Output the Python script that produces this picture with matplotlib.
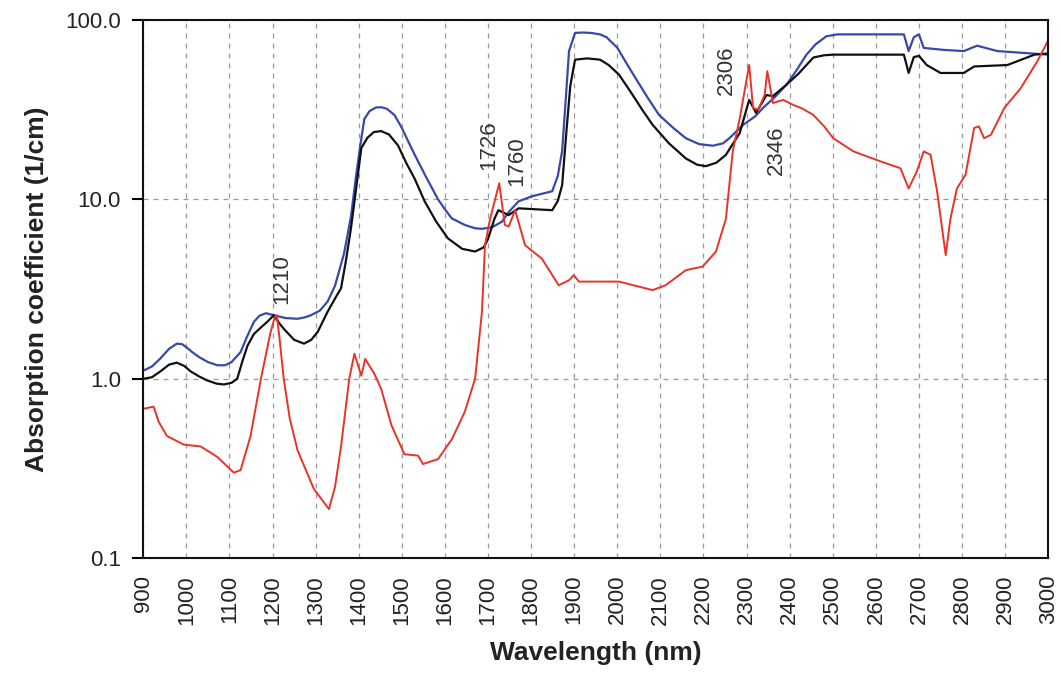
import numpy as np
import matplotlib
matplotlib.use("Agg")
import matplotlib.pyplot as plt
from matplotlib.ticker import FixedLocator, NullLocator, FuncFormatter

plt.rcParams['font.family'] = ['Liberation Sans', 'DejaVu Sans']

# wavelength (nm) / absorption coefficient (1/cm)
blue_wl = [900, 920, 940, 960, 978, 990, 1000, 1015, 1030, 1050, 1072, 1090,
           1105, 1126, 1140, 1157, 1170, 1185, 1203, 1230, 1258, 1275, 1289, 1310,
           1328, 1345, 1366, 1382, 1394, 1405, 1413, 1425, 1440, 1452, 1465, 1483,
           1500, 1515, 1530, 1555, 1584, 1600, 1616, 1646, 1670, 1686, 1710, 1732,
           1750, 1771, 1802, 1849, 1862, 1872, 1880, 1888, 1902, 1920, 1940, 1960,
           1975, 2000, 2020, 2042, 2070, 2097, 2130, 2159, 2190, 2222, 2245, 2260,
           2292, 2320, 2338, 2365, 2392, 2415, 2439, 2460, 2485, 2510, 2548, 2665,
           2676, 2688, 2700, 2711, 2758, 2804, 2835, 2882, 2960, 3000]
blue_abs = [1.11, 1.17, 1.3, 1.47, 1.57, 1.56, 1.5, 1.4, 1.32, 1.24, 1.19, 1.19,
            1.24, 1.41, 1.7, 2.08, 2.25, 2.32, 2.26, 2.18, 2.16, 2.2, 2.26, 2.4,
            2.7, 3.3, 5.0, 8.0, 13.6, 21, 28, 31, 32.5, 32.6, 32, 29.5,
            25, 21, 17.7, 13.5, 10.0, 8.8, 7.83, 7.2, 6.9, 6.85, 7.0, 7.5,
            8.6, 9.75, 10.4, 11.1, 13.5, 18.6, 35, 67, 84.6, 85, 84.5, 83,
            80, 70, 58, 47.5, 37, 29.5, 25, 21.9, 20.3, 19.9, 20.5, 21.9,
            26, 29, 32.3, 37, 43.4, 52, 64, 73, 81, 83, 83, 83,
            67, 80, 83, 69.8, 68, 67, 71.8, 67, 65, 64]

black_wl = [900, 920, 940, 960, 978, 995, 1010, 1030, 1048, 1070, 1087, 1105,
            1118, 1130, 1142, 1157, 1175, 1188, 1203, 1215, 1226, 1250, 1273, 1290,
            1305, 1328, 1345, 1359, 1370, 1382, 1395, 1406, 1420, 1435, 1452, 1470,
            1491, 1510, 1530, 1553, 1580, 1607, 1640, 1670, 1690, 1700, 1715, 1724,
            1748, 1771, 1849, 1862, 1872, 1882, 1891, 1902, 1930, 1960, 1980, 2004,
            2030, 2060, 2082, 2120, 2159, 2185, 2205, 2230, 2252, 2284, 2306, 2322,
            2346, 2361, 2392, 2420, 2455, 2480, 2501, 2665, 2676, 2688, 2700, 2718,
            2750, 2804, 2828, 2905, 2968, 3000]
black_abs = [1.0, 1.02, 1.1, 1.2, 1.23, 1.18, 1.1, 1.03, 0.98, 0.94, 0.93, 0.95,
             1.0, 1.25, 1.53, 1.78, 1.95, 2.08, 2.26, 2.05, 1.9, 1.65, 1.57, 1.65,
             1.83, 2.37, 2.8, 3.2, 4.5, 6.9, 12, 19.3, 22, 23.7, 24, 23,
             20, 16, 13, 9.75, 7.5, 6.06, 5.3, 5.12, 5.4, 6.0, 7.8, 8.7,
             8.17, 8.91, 8.7, 9.8, 12.0, 24, 43, 60, 61, 60, 56, 49.5,
             40, 31, 26, 20.5, 16.9, 15.6, 15.3, 16.0, 17.7, 23.4, 35.8, 30.3,
             38.1, 37.6, 43.4, 50, 61.7, 63.5, 64, 64, 50.6, 62, 63, 56,
             50.6, 50.6, 55, 56, 64, 65]

red_wl = [900, 924, 936, 955, 994, 1033, 1072, 1110, 1126, 1149, 1173, 1195,
          1205, 1210, 1216, 1226, 1240, 1258, 1296, 1331, 1345, 1359, 1378, 1390,
          1406, 1415, 1436, 1452, 1476, 1506, 1538, 1549, 1584, 1616, 1646, 1670,
          1686, 1693, 1705, 1726, 1739, 1748, 1763, 1786, 1825, 1864, 1888, 1899,
          1911, 1926, 2004, 2082, 2112, 2159, 2198, 2229, 2252, 2268, 2284, 2306,
          2315, 2327, 2342, 2348, 2361, 2385, 2408, 2430, 2455, 2480, 2501, 2548,
          2610, 2657, 2676, 2695, 2711, 2727, 2742, 2762, 2773, 2788, 2808, 2828,
          2839, 2851, 2867, 2898, 2936, 2975, 3000]
red_abs = [0.68, 0.70, 0.575, 0.48, 0.43, 0.42, 0.367, 0.30, 0.31, 0.48, 1.0, 1.8,
           2.2, 2.26, 1.7, 1.0, 0.6, 0.4, 0.243, 0.188, 0.25, 0.42, 1.0, 1.38,
           1.04, 1.29, 1.07, 0.88, 0.55, 0.38, 0.373, 0.335, 0.357, 0.46, 0.654, 1.0,
           2.37, 5.55, 7.8, 12.3, 7.2, 7.06, 8.7, 5.55, 4.67, 3.32, 3.54, 3.78,
           3.48, 3.48, 3.48, 3.12, 3.32, 4.03, 4.22, 5.12, 7.8, 18.6, 28.2, 56,
           32.3, 31.6, 38.2, 51.8, 34.4, 35.8, 33.6, 32, 29.5, 25.5, 21.9, 18.5,
           16.3, 14.9, 11.5, 14.3, 18.5, 17.7, 11.1, 4.89, 7.8, 11.5, 13.7, 25.0,
           25.5, 21.9, 22.9, 32.3, 41.6, 59, 77]

peak_labels = ['1210', '1726', '1760', '2306', '2346']
peak_x = [1222, 1702, 1767, 2252, 2369]
peak_y = [2.6, 14.5, 11.8, 38, 13.6]

fig = plt.figure(figsize=(10.61, 6.85), dpi=100)
ax = fig.add_axes([0.135, 0.185, 0.853, 0.786])

ax.plot(blue_wl, blue_abs, color='#3a48a8', lw=1.6)
ax.plot(black_wl, black_abs, color='#111111', lw=1.6)
ax.plot(red_wl, red_abs, color='#e8332a', lw=1.4)

for lab, x, y in zip(peak_labels, peak_x, peak_y):
    ax.text(x, y, lab, rotation=90, ha='center', va='bottom',
            fontsize=16, color='#333333')

ax.set_yscale('log')
ax.set_xlim(900, 3000)
ax.set_ylim(0.1, 100)
ax.xaxis.set_major_locator(FixedLocator(np.arange(900, 3001, 100)))
ax.yaxis.set_major_locator(FixedLocator([0.1, 1, 10, 100]))
ax.yaxis.set_minor_locator(NullLocator())
ax.yaxis.set_major_formatter(FuncFormatter(lambda v, p: '%.1f' % v))
ax.tick_params(axis='x', length=0, pad=12, labelsize=16, labelrotation=90,
               labelcolor='#222222')
ax.tick_params(axis='y', length=8, width=1.5, pad=8, labelsize=16,
               labelcolor='#222222')

ax.grid(True, color='#999999', linestyle=(0, (4, 4)), lw=0.9)
for s in ax.spines.values():
    s.set_linewidth(1.5)
    s.set_color('#111111')

ax.set_xlabel('Wavelength (nm)', fontsize=19, fontweight='bold',
              color='#222222', labelpad=12)
ax.set_ylabel('Absorption coefficient (1/cm)', fontsize=19, fontweight='bold',
              color='#222222', labelpad=12)

fig.savefig('out.png', dpi=100)
